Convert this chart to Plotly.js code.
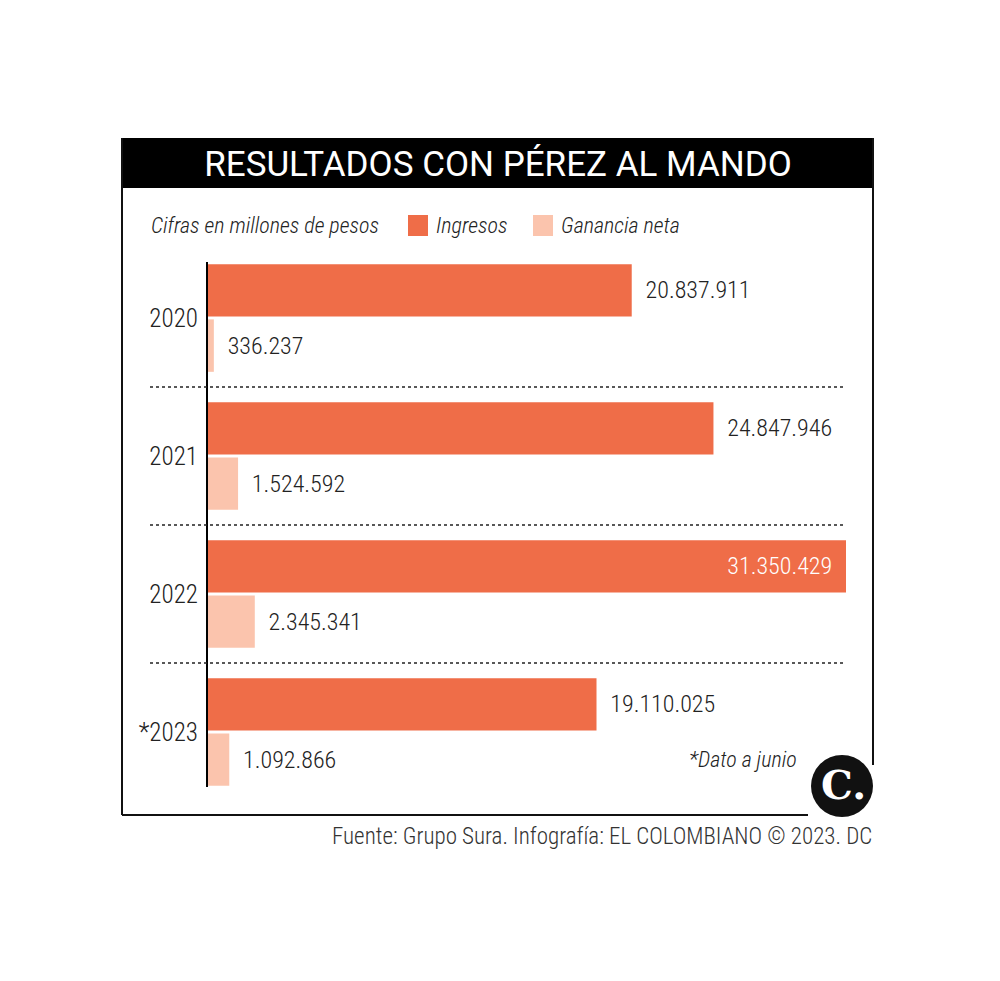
<!DOCTYPE html>
<html>
<head>
<meta charset="utf-8">
<script src="https://cdn.plot.ly/plotly-3.0.1.min.js"></script>
<style>html,body{margin:0;padding:0;background:#fff;}#chart{width:1000px;height:981px;}</style>
</head>
<body>
<div id="chart"></div>
<script>
// Data
const years = ["2020", "2021", "2022", "*2023"];
const ingresos = [20837911, 24847946, 31350429, 19110025];
const ganancia = [336237, 1524592, 2345341, 1092866];
const ingresosTextPos = ["outside", "outside", "inside", "outside"];

const COND = "Roboto Condensed, Roboto, sans-serif";
const FONT = "Roboto, sans-serif";
const ORANGE = "#EF6D48";
const PEACH = "#FBC4AD";
const NB = "\u00a0\u00a0";

// plot area in pixels
const L = 207, R = 846, T = 249, B = 801;
const px = x => (x - L) / (R - L);
const py = y => (B - y) / (B - T);

const ingTemplates = ingresosTextPos.map(p => p === "inside" ? "%{x:,.0f}" + NB : NB + "%{x:,.0f}");
const valFont = {family: COND, size: 24, color: "#222", weight: 300};

const traces = [
  {
    type: "bar", orientation: "h", name: "Ingresos",
    y: years, x: ingresos,
    marker: {color: ORANGE},
    texttemplate: ingTemplates,
    textposition: ingresosTextPos,
    insidetextanchor: "end",
    textfont: valFont,
    insidetextfont: Object.assign({}, valFont, {color: "#fff"}),
    outsidetextfont: valFont,
    constraintext: "none",
    cliponaxis: false, hoverinfo: "none"
  },
  {
    type: "bar", orientation: "h", name: "Ganancia neta",
    y: years, x: ganancia,
    marker: {color: PEACH},
    texttemplate: NB + "%{x:,.0f}",
    textposition: "outside",
    textfont: valFont,
    outsidetextfont: valFont,
    constraintext: "none",
    cliponaxis: false, hoverinfo: "none"
  }
];

const shapes = [
  {type: "rect", xref: "paper", yref: "paper", x0: px(122), x1: px(873), y0: py(188), y1: py(138), fillcolor: "#000", line: {width: 0}, layer: "below"},
  {type: "line", xref: "paper", yref: "paper", x0: px(122), x1: px(122), y0: py(138), y1: py(815), line: {color: "#111", width: 2}},
  {type: "line", xref: "paper", yref: "paper", x0: px(122), x1: px(808), y0: py(815), y1: py(815), line: {color: "#111", width: 2}},
  {type: "line", xref: "paper", yref: "paper", x0: px(873), x1: px(873), y0: py(138), y1: py(765), line: {color: "#111", width: 2}},
  {type: "line", xref: "paper", yref: "paper", x0: 0, x1: 0, y0: py(262), y1: py(787), line: {color: "#000", width: 2}},
  {type: "rect", xref: "paper", yref: "paper", x0: px(408), x1: px(428), y0: py(236), y1: py(215), fillcolor: ORANGE, line: {width: 0}},
  {type: "rect", xref: "paper", yref: "paper", x0: px(533), x1: px(553), y0: py(236), y1: py(215), fillcolor: PEACH, line: {width: 0}},
  {type: "circle", xref: "paper", yref: "paper", x0: px(811), x1: px(873), y0: py(817), y1: py(755), fillcolor: "#111", line: {width: 0}}
];
for (let i = 0; i < years.length - 1; i++) {
  shapes.push({type: "line", xref: "paper", yref: "y", x0: px(150), x1: px(845), y0: i + 0.5, y1: i + 0.5, line: {color: "#222", width: 1.5, dash: "dot"}});
}

const it = {family: COND, size: 22, color: "#222", style: "italic", weight: 300};
const annotations = [
  {text: "Cifras en millones de pesos", x: px(149), y: py(226), xref: "paper", yref: "paper", xanchor: "left", yanchor: "middle", showarrow: false, font: it},
  {text: "Ingresos", x: px(434), y: py(226), xref: "paper", yref: "paper", xanchor: "left", yanchor: "middle", showarrow: false, font: it},
  {text: "Ganancia neta", x: px(559), y: py(226), xref: "paper", yref: "paper", xanchor: "left", yanchor: "middle", showarrow: false, font: it},
  {text: "*Dato a junio", x: px(799), y: py(759), xref: "paper", yref: "paper", xanchor: "right", yanchor: "middle", showarrow: false, font: it},
  {text: "<b>C.</b>", x: px(843), y: py(784), xref: "paper", yref: "paper", xanchor: "center", yanchor: "middle", showarrow: false, font: {family: "DejaVu Serif, serif", size: 40, color: "#fff"}},
  {text: "Fuente: Grupo Sura. Infografía: EL COLOMBIANO © 2023. DC", x: px(874), y: py(836), xref: "paper", yref: "paper", xanchor: "right", yanchor: "middle", showarrow: false, font: {family: COND, size: 23, color: "#333", weight: 300}}
];

const layout = {
  width: 1000, height: 981,
  margin: {l: L, r: 1000 - R, t: T, b: 981 - B, pad: 0},
  paper_bgcolor: "#fff", plot_bgcolor: "rgba(0,0,0,0)",
  separators: ",.",
  barmode: "group", bargap: 0.2, bargroupgap: 0.05,
  showlegend: false,
  title: {text: "RESULTADOS CON PÉREZ AL MANDO", x: 498 / 1000, xanchor: "center", y: 1 - 164 / 981, yanchor: "middle", xref: "container", yref: "container", font: {family: FONT, size: 35, color: "#fff", weight: 400}},
  xaxis: {range: [0, 31350429], showgrid: false, zeroline: false, showticklabels: false, ticks: "", showline: false, fixedrange: true},
  yaxis: {type: "category", autorange: "reversed", showgrid: false, zeroline: false, showline: false, ticks: "", ticklabelstandoff: 8, tickfont: {family: COND, size: 25, color: "#222", weight: 300}, fixedrange: true},
  shapes: shapes,
  annotations: annotations,
  font: {family: FONT}
};

Plotly.newPlot("chart", traces, layout, {displayModeBar: false, staticPlot: true});
</script>
</body>
</html>
